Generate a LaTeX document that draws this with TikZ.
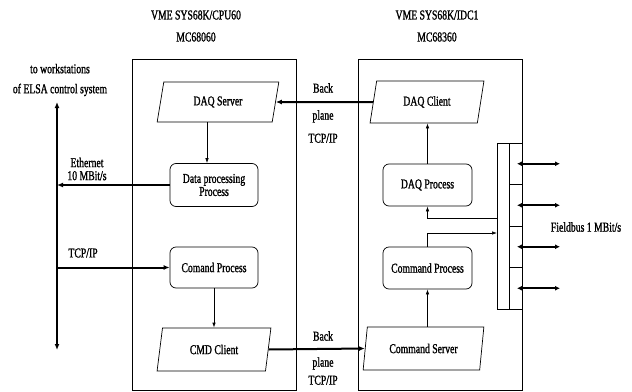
\documentclass[tikz,border=0pt]{standalone}
\usepackage{fontspec}
\setmainfont{Liberation Serif}[FakeStretch=0.72,FakeBold=1.2]
\usetikzlibrary{shapes.geometric,arrows.meta}
\begin{document}
\begin{tikzpicture}[x=1pt,y=-1pt,
  font=\fontsize{13.5}{13}\selectfont,
  board/.style={draw,line width=0.7pt},
  para/.style={draw,line width=0.7pt,trapezium,trapezium left angle=75,
    trapezium right angle=105,trapezium stretches=true,inner sep=0pt},
  proc/.style={draw,line width=0.7pt,rounded corners=6pt,inner sep=0pt},
  lbl/.style={inner sep=0pt,align=center},
  arr/.style={line width=0.7pt,-{Latex[length=5pt,width=3.5pt]}},
  link/.style={line width=2pt,-{Latex[length=6pt,width=5pt]}},
  bus/.style={line width=2pt,{Latex[length=6pt,width=5pt]}-{Latex[length=6pt,width=5pt]}},
  fb/.style={line width=1.8pt,{Latex[length=5pt,width=5pt]}-{Latex[length=5pt,width=5pt]}},
  cell/.style={draw,line width=0.7pt,inner sep=0pt,minimum width=13pt,minimum height=41.5pt}]
\useasboundingbox (0,0) rectangle (632,391);

% the two VME boards
\draw[board] (132,59) rectangle (296,390);
\draw[board] (358,59) rectangle (522,390);
\node[lbl] (t1) at (196,26) {VME SYS68K/CPU60\\[9pt]MC68060};
\node[lbl] (t2) at (437,26) {VME SYS68K/IDC1\\[9pt]MC68360};

% CPU60 tasks
\node[para,minimum width=122pt,minimum height=40pt] (daqs) at (218,102) {DAQ Server};
\node[proc,minimum width=88pt,minimum height=43pt,align=center] (dpp) at (214,185)
  {Data processing\\Process};
\node[proc,minimum width=88pt,minimum height=41pt] (cmdp) at (214,267.5) {Comand Process};
\node[para,minimum width=114pt,minimum height=43pt] (cmdc) at (214,349.5) {CMD Client};

% IDC1 tasks
\node[para,minimum width=114pt,minimum height=42pt] (daqc) at (427,102) {DAQ Client};
\node[proc,minimum width=89pt,minimum height=42pt] (daqp) at (427.5,185) {DAQ Process};
\node[proc,minimum width=89pt,minimum height=42pt] (cmdq) at (427.5,268) {Command Process};
\node[para,minimum width=121pt,minimum height=43pt] (cmds) at (423.5,348.5) {Command Server};

% fieldbus interface
\draw[line width=0.7pt] (497,143) rectangle (509,309);
\node[cell] (c1) at (515.5,163.75) {};
\node[cell] (c2) at (515.5,205.25) {};
\node[cell] (c3) at (515.5,246.75) {};
\node[cell] (c4) at (515.5,288.25) {};
\coordinate (fbl) at (497,0);
\coordinate (fbr) at (560,0);
\foreach \c in {c1,c2,c3,c4}
  \draw[fb] ([xshift=1.5pt]\c.center) -- (\c.center -| fbr);
\node[lbl] (fbt) at (586,227) {Fieldbus 1 MBit/s};

% internal data flow
\draw[arr] ([xshift=-7pt]dpp.north |- daqs.south) -- ([xshift=-7pt]dpp.north);
\draw[arr] (cmdp.south) -- (cmdp.south |- cmdc.north);
\draw[arr] (daqp.north) -- (daqp.north |- daqc.south);
\draw[arr] (cmdq.south |- cmds.north) -- (cmdq.south);
\draw[arr] (fbl |- 0,218) -| (daqp.south);
\draw[arr] (cmdq.north) |- (fbl |- 0,233);

% backplane links
\draw[link] (daqc.west) -- (daqs.east);
\draw[link] (cmdc.east) -- (cmds.west);
\node[lbl] (bp1) at (323,88) {Back};
\node[lbl] (bp2) at (323,126.5) {plane\\[10pt]TCP/IP};
\node[lbl] (bp3) at (323,336) {Back};
\node[lbl] (bp4) at (323,371) {plane\\[5pt]TCP/IP};

% Ethernet to the workstations
\coordinate (bt) at (57,102);
\coordinate (bb) at (57,350);
\draw[bus] (bt) -- (bb);
\draw[link] (dpp.west) -- (dpp.west -| bt);
\draw[link] (cmdp.west -| bt) -- (cmdp.west);
\node[lbl] (ws) at (60,80) {to workstations\\[7pt]of ELSA control system};
\node[lbl] (eth) at (87,169) {Ethernet\\10 MBit/s};
\node[lbl] (tcp) at (83,253) {TCP/IP};
\end{tikzpicture}
\end{document}
